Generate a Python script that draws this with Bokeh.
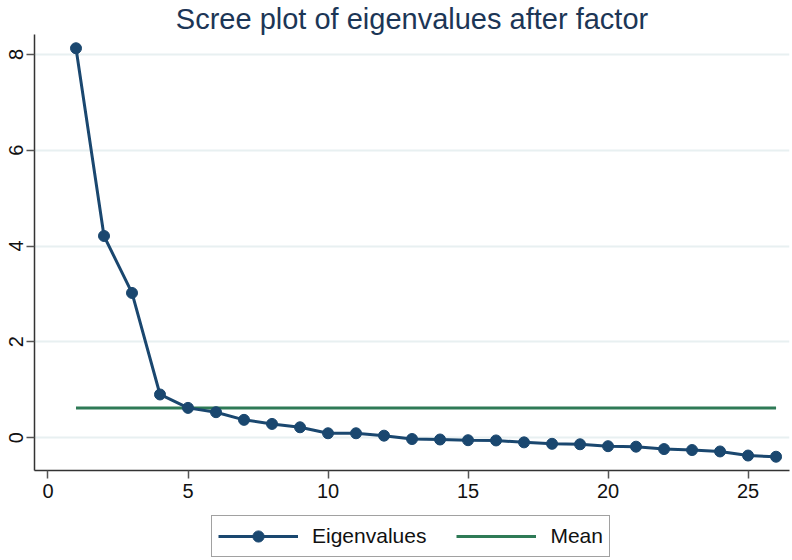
from bokeh.plotting import figure
from bokeh.layouts import column
from bokeh.models import Range1d, FixedTicker, Legend
from bokeh.embed import file_html
from bokeh.resources import INLINE

# Data
factor_number = list(range(1, 27))
eigenvalues = [8.13, 4.21, 3.02, 0.90, 0.62, 0.53, 0.37, 0.285, 0.215, 0.09,
               0.09, 0.04, -0.03, -0.04, -0.055, -0.06, -0.10, -0.13, -0.14, -0.18,
               -0.19, -0.24, -0.26, -0.29, -0.375, -0.40]
mean_x = [1, 26]
mean_y = [0.62, 0.62]
x_ticks = [0, 5, 10, 15, 20, 25]
y_ticks = [0, 2, 4, 6, 8]
series_labels = ["Eigenvalues", "Mean"]

NAVY = "#1a476f"
GREEN = "#2e7a56"
FONT = "Liberation Sans"

p = figure(width=792, height=512, output_backend="svg", toolbar_location=None,
           title="Scree plot of eigenvalues after factor",
           x_range=Range1d(-0.482, 26.48), y_range=Range1d(-0.6875, 8.417),
           min_border_left=34, min_border_right=3, min_border_top=0, min_border_bottom=42)

p.outline_line_color = None
p.background_fill_color = "white"
p.border_fill_color = "white"

p.title.text_font = FONT
p.title.text_font_size = "29px"
p.title.text_font_style = "normal"
p.title.text_color = "#1c3656"
p.title.align = "center"
p.title.standoff = 0

for ax in (p.xaxis[0], p.yaxis[0]):
    ax.axis_line_color = "#333333"
    ax.axis_line_width = 1.5
    ax.major_tick_line_color = "#555555"
    ax.major_tick_line_width = 1.5
    ax.major_tick_out = 8
    ax.major_tick_in = 0
    ax.minor_tick_line_color = None
    ax.major_label_text_font = FONT
    ax.major_label_text_font_size = "20px"
    ax.major_label_text_color = "#111111"

p.xaxis[0].ticker = FixedTicker(ticks=x_ticks)
p.yaxis[0].ticker = FixedTicker(ticks=y_ticks)
p.yaxis[0].major_label_orientation = "vertical"
p.xaxis[0].major_label_standoff = 5
p.yaxis[0].major_label_standoff = 3

p.xgrid.grid_line_color = None
p.ygrid.ticker = FixedTicker(ticks=y_ticks)
p.ygrid.grid_line_color = "#e8f0f1"
p.ygrid.grid_line_width = 2

p.line(mean_x, mean_y, line_color=GREEN, line_width=3)
p.line(factor_number, eigenvalues, line_color=NAVY, line_width=3)
p.scatter(factor_number, eigenvalues, size=11, fill_color=NAVY, line_color=NAVY)

# Legend strip below the chart (same series; the ranges keep the marks out of view)
lg = figure(width=792, height=48, output_backend="svg", toolbar_location=None,
            x_range=Range1d(1000, 1001), y_range=Range1d(1000, 1001),
            x_axis_type=None, y_axis_type=None,
            min_border_left=0, min_border_right=0, min_border_top=0, min_border_bottom=0)
lg.outline_line_color = None
lg.xgrid.grid_line_color = None
lg.ygrid.grid_line_color = None
l_mean = lg.line(mean_x, mean_y, line_color=GREEN, line_width=3)
l_line = lg.line(factor_number, eigenvalues, line_color=NAVY, line_width=3)
l_pts = lg.scatter(factor_number, eigenvalues, size=11, fill_color=NAVY, line_color=NAVY)

legend = Legend(items=[(series_labels[0], [l_line, l_pts]), (series_labels[1], [l_mean])],
                orientation="horizontal", location=(177, 3))
legend.border_line_color = "#444444"
legend.border_line_width = 1
legend.label_text_font = FONT
legend.label_text_font_size = "21px"
legend.label_text_color = "#111111"
legend.glyph_width = 80
legend.glyph_height = 28
legend.spacing = 30
legend.padding = 6
legend.margin = 0
legend.label_standoff = 14
legend.background_fill_alpha = 1
lg.add_layout(legend, "center")

layout = column(p, lg, spacing=0)
open("out.html", "w").write(file_html(layout, INLINE))
